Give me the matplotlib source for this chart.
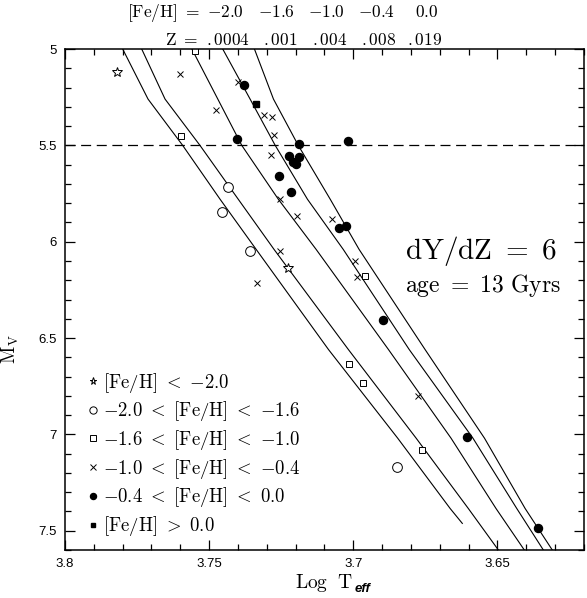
import matplotlib
matplotlib.use('Agg')
from matplotlib import pyplot as plt
from matplotlib.ticker import MultipleLocator, FormatStrFormatter

plt.rcParams['font.family'] = ['Liberation Serif', 'DejaVu Serif']
plt.rcParams['mathtext.fontset'] = 'cm'

# isochrones, M_V vs Log Teff, one per Z
mv_iso = [5.0, 5.26, 5.5, 5.78, 6.04, 6.56, 7.02, 7.385, 7.6]
mv_iso_first = [5.0, 5.26, 5.5, 5.78, 6.04, 6.56, 7.02, 7.385, 7.462]
teff_z0004 = [3.7800, 3.7712, 3.7592, 3.7462, 3.7337, 3.7086, 3.6846, 3.6664, 3.6622]
teff_z001 = [3.7734, 3.7653, 3.7532, 3.7399, 3.7275, 3.7017, 3.6782, 3.6601, 3.6497]
teff_z004 = [3.7560, 3.7470, 3.7387, 3.7260, 3.7129, 3.6878, 3.6661, 3.6505, 3.6407]
teff_z008 = [3.7453, 3.7358, 3.7271, 3.7159, 3.7035, 3.6806, 3.6585, 3.6433, 3.6341]
teff_z019 = [3.7343, 3.7277, 3.7191, 3.7080, 3.6980, 3.6751, 3.6545, 3.6404, 3.6310]

# stars, grouped by metallicity
star_teff = [3.7819, 3.7227]
star_mv = [5.120, 6.138]
circ_teff = [3.7435, 3.7455, 3.7359, 3.6850]
circ_mv = [5.718, 5.848, 6.049, 7.171]
sq_teff = [3.7549, 3.7598, 3.6961, 3.7015, 3.6967, 3.6762]
sq_mv = [5.010, 5.449, 6.180, 6.633, 6.732, 7.080]
cross_teff = [3.7601, 3.7399, 3.7478, 3.7309, 3.7282, 3.7275, 3.7287, 3.7256,
              3.7196, 3.7074, 3.7254, 3.6994, 3.6988, 3.7334, 3.6774]
cross_mv = [5.132, 5.171, 5.317, 5.344, 5.352, 5.444, 5.551, 5.781,
            5.869, 5.880, 6.050, 6.100, 6.185, 6.214, 6.800]
dot_teff = [3.7380, 3.7404, 3.7187, 3.7017, 3.7222, 3.7187, 3.7208, 3.7198,
            3.7258, 3.7216, 3.7048, 3.7025, 3.6897, 3.6606, 3.6359]
dot_mv = [5.185, 5.469, 5.493, 5.479, 5.553, 5.562, 5.589, 5.595,
          5.661, 5.742, 5.931, 5.916, 6.406, 7.012, 7.487]
fsq_teff = [3.7336]
fsq_mv = [5.283]

legend_labels = [r'$[\mathrm{Fe/H}]\ <\ {-2.0}$',
                 r'${-2.0}\ <\ [\mathrm{Fe/H}]\ <\ {-1.6}$',
                 r'${-1.6}\ <\ [\mathrm{Fe/H}]\ <\ {-1.0}$',
                 r'${-1.0}\ <\ [\mathrm{Fe/H}]\ <\ {-0.4}$',
                 r'${-0.4}\ <\ [\mathrm{Fe/H}]\ <\ 0.0$',
                 r'$[\mathrm{Fe/H}]\ >\ 0.0$']
feh_labels = ['$-2.0$', '$-1.6$', '$-1.0$', '$-0.4$', '$0.0$']
z_labels = ['$.0004$', '$.001$', '$.004$', '$.008$', '$.019$']

W, H = 587, 598
fig = plt.figure(figsize=(W / 100, H / 100), dpi=100)
ax = fig.add_axes([65 / W, 1 - 550 / H, 519 / W, 501 / H])

for teff, mv in [(teff_z0004, mv_iso_first), (teff_z001, mv_iso), (teff_z004, mv_iso),
                 (teff_z008, mv_iso), (teff_z019, mv_iso)]:
    ax.plot(teff, mv, color='black', lw=0.8)

ax.axhline(5.5, color='black', lw=0.9, dashes=(8, 4.5))

ax.plot(star_teff, star_mv, ls='none', marker='*', ms=7, mfc='white', mec='black', mew=0.7,
        label=legend_labels[0])
ax.plot(circ_teff, circ_mv, ls='none', marker='o', ms=7, mfc='white', mec='black', mew=0.7,
        label=legend_labels[1])
ax.plot(sq_teff, sq_mv, ls='none', marker='s', ms=5, mfc='white', mec='black', mew=0.7,
        label=legend_labels[2])
ax.plot(cross_teff, cross_mv, ls='none', marker='x', ms=5, mec='black', mew=0.7,
        label=legend_labels[3])
ax.plot(dot_teff, dot_mv, ls='none', marker='o', ms=5.8, color='black',
        label=legend_labels[4])
ax.plot(fsq_teff, fsq_mv, ls='none', marker='s', ms=4.5, color='black',
        label=legend_labels[5])

ax.set_xlim(3.8, 3.62)
ax.set_ylim(7.6, 5.0)
ax.xaxis.set_major_locator(MultipleLocator(0.05))
ax.xaxis.set_minor_locator(MultipleLocator(0.01))
ax.yaxis.set_major_locator(MultipleLocator(0.5))
ax.yaxis.set_minor_locator(MultipleLocator(0.1))
ax.xaxis.set_major_formatter(FormatStrFormatter('%g'))
ax.yaxis.set_major_formatter(FormatStrFormatter('%g'))
ax.tick_params(which='both', direction='in', top=True, right=True, width=0.9)
ax.tick_params(which='major', length=7, labelsize=9.5, pad=6)
ax.tick_params(which='minor', length=4)
for lab in ax.get_xticklabels() + ax.get_yticklabels():
    lab.set_family('Liberation Sans')
for sp in ax.spines.values():
    sp.set_linewidth(1.1)

ax.set_xlabel(r'$\mathrm{Log\ \ T}$', fontsize=14, labelpad=1)
ax.annotate('eff', xy=(1.0, 0.0), xycoords=ax.xaxis.label, xytext=(1, -1),
            textcoords='offset points', fontsize=9.5, family='Liberation Sans',
            weight='bold', style='italic', ha='left', va='bottom')
ax.set_ylabel(r'$\mathrm{M_V}$', fontsize=13.5)
ax.yaxis.set_label_coords(-0.085, 0.40)

leg = ax.legend(loc='lower left', bbox_to_anchor=(0.025, 0.005), frameon=False,
                fontsize=13.5, handlelength=0.6, handletextpad=0.25,
                labelspacing=0.25, borderpad=0, markerscale=0.75, numpoints=1)

ax.text(0.655, 0.596, r'$\mathrm{dY/dZ}\ =\ 6$', transform=ax.transAxes, fontsize=21,
        ha='left', va='center')
ax.text(0.655, 0.528, r'$\mathrm{age}\ =\ 13\ \mathrm{Gyrs}$', transform=ax.transAxes,
        fontsize=17, ha='left', va='center')

# header rows above the plot
fig.text(200 / W, 1 - 13 / H, r'$[\mathrm{Fe/H}]\ =$', fontsize=12.5, ha='right', va='center')
for xp, s in zip([225, 276.7, 326.7, 376.7, 426.7], feh_labels):
    fig.text(xp / W, 1 - 13 / H, s, fontsize=12.5, ha='center', va='center')
fig.text(198 / W, 1 - 41 / H, r'$\mathrm{Z}\ =$', fontsize=12.5, ha='right', va='center')
for xp, s in zip([228.3, 280, 330, 378.3, 425], z_labels):
    fig.text(xp / W, 1 - 41 / H, s, fontsize=12.5, ha='center', va='center')

fig.savefig('out.png', dpi=100)
